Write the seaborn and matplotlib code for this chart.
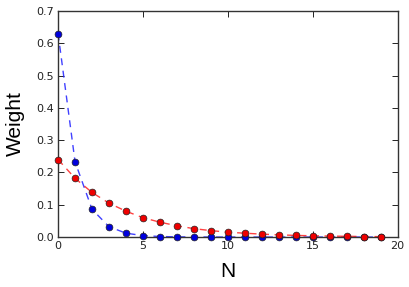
import matplotlib
matplotlib.use("Agg")
import matplotlib.pyplot as plt
import seaborn as sns
import pandas as pd

n_values = list(range(20))
blue_weights = [0.63, 0.233, 0.086, 0.032, 0.012, 0.0045, 0.0017, 0.0006, 0.0002, 0.0001,
                0.00003, 0.00001, 0.0, 0.0, 0.0, 0.0, 0.0, 0.0, 0.0, 0.0]
red_weights = [0.24, 0.182, 0.138, 0.105, 0.080, 0.060, 0.046, 0.035, 0.026, 0.020,
               0.015, 0.012, 0.009, 0.007, 0.005, 0.004, 0.003, 0.0023, 0.0017, 0.0013]
x_ticks = [0, 5, 10, 15, 20]
y_ticks = [0.0, 0.1, 0.2, 0.3, 0.4, 0.5, 0.6, 0.7]

sns.set_style("ticks")
plt.rcParams['font.family'] = ['DejaVu Sans']

fig = plt.figure(figsize=(4.09, 2.87), dpi=100)
ax = fig.add_axes([0.142, 0.174, 0.830, 0.788])

df_b = pd.DataFrame({"N": n_values, "w": blue_weights})
df_r = pd.DataFrame({"N": n_values, "w": red_weights})

for df, col, mcol in [(df_b, "#2020ff", "#0000dd"), (df_r, "#ff2020", "#ee0000")]:
    sns.lineplot(data=df, x="N", y="w", ax=ax, color=col, linestyle=(0, (5, 4)),
                 linewidth=1.0, alpha=0.85, zorder=2)
    sns.scatterplot(data=df, x="N", y="w", ax=ax, color=mcol, s=24,
                    edgecolor="#222222", linewidth=0.5, zorder=3, clip_on=False)

ax.set_xlim(0, 20)
ax.set_ylim(0, 0.7)
ax.set_xticks(x_ticks)
ax.set_yticks(y_ticks)
ax.set_xticklabels([str(v) for v in x_ticks])
ax.set_yticklabels([f"{v:.1f}" for v in y_ticks])
ax.tick_params(direction="in", top=True, right=True, labelsize=8, length=4, width=0.6,
               colors="black", labelcolor="#222222", pad=3)
for s in ax.spines.values():
    s.set_visible(True)
    s.set_color("#333333")
    s.set_linewidth(1.0)

ax.set_xlabel("N", fontsize=15, family="Liberation Sans", labelpad=8, color="black")
ax.set_ylabel("Weight", fontsize=15, family="Liberation Sans", labelpad=8, color="black")

fig.savefig("out.png", dpi=100)
